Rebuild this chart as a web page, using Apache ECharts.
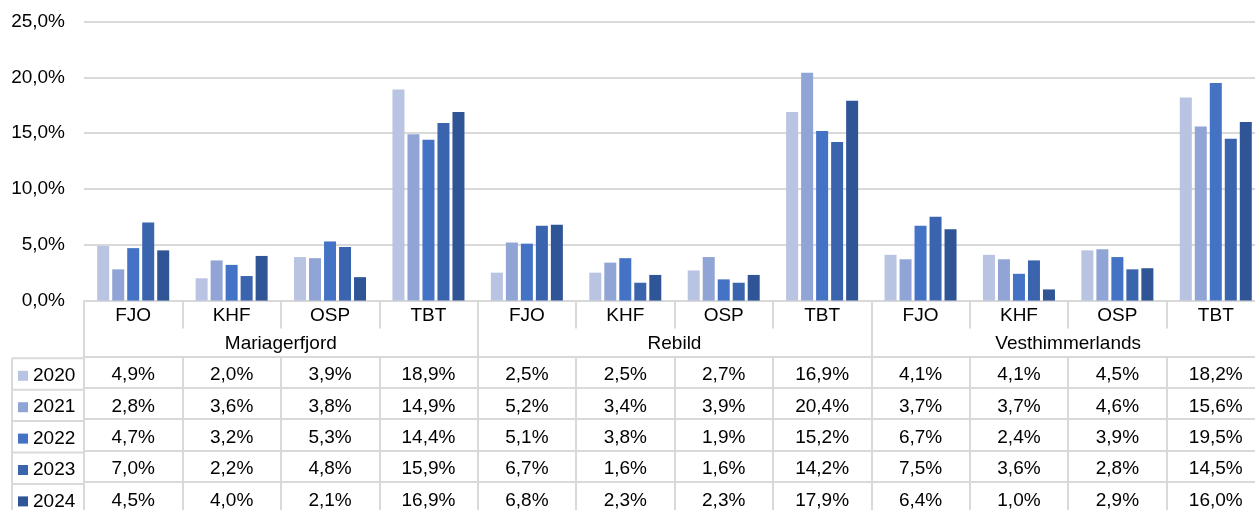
<!DOCTYPE html>
<html><head><meta charset="utf-8">
<script src="https://cdn.jsdelivr.net/npm/echarts@6/dist/echarts.min.js"></script>
<style>html,body{margin:0;padding:0;background:#fff;overflow:hidden;width:1255px;height:510px}#c{width:1266px;height:510px}</style>
</head><body><div id="c"></div>
<script>
// ---- data ----
const categories = ['FJO','KHF','OSP','TBT','FJO','KHF','OSP','TBT','FJO','KHF','OSP','TBT'];
const groups = ['Mariagerfjord','Rebild','Vesthimmerlands'];
const years = ['2020','2021','2022','2023','2024'];
const y2020 = [4.9,2.0,3.9,18.9, 2.5,2.5,2.7,16.9, 4.1,4.1,4.5,18.2];
const y2021 = [2.8,3.6,3.8,14.9, 5.2,3.4,3.9,20.4, 3.7,3.7,4.6,15.6];
const y2022 = [4.7,3.2,5.3,14.4, 5.1,3.8,1.9,15.2, 6.7,2.4,3.9,19.5];
const y2023 = [7.0,2.2,4.8,15.9, 6.7,1.6,1.6,14.2, 7.5,3.6,2.8,14.5];
const y2024 = [4.5,4.0,2.1,16.9, 6.8,2.3,2.3,17.9, 6.4,1.0,2.9,16.0];
const yTicks = {min:0, max:25, interval:5};
const seriesData = [y2020,y2021,y2022,y2023,y2024];
const colors = ['#B9C3E2','#90A4D5','#4472C4','#3A64AE','#2F5597'];

// ---- layout ----
const FONT = 'Liberation Sans, Arial, sans-serif';
const FS = 19;
const gridLeft = 84, gridRight = 1, gridTop = 21.5, gridBottom = 207.5;
const H = 510;
const axisY = H - gridBottom;
const row0 = 55.8, rowH = 31.4;
const lineC = '#D9D9D9';
const fmt = v => v.toFixed(1).replace('.', ',') + '%';

const xAxes = [];
xAxes.push({
  type:'category', data:categories, position:'bottom', gridIndex:0,
  axisLine:{show:true, lineStyle:{color:lineC, width:2}},
  axisTick:{show:true, interval:0, length:28, lineStyle:{color:lineC, width:2}},
  axisLabel:{interval:0, margin:6, color:'#000', fontSize:FS, fontFamily:FONT}
});
xAxes.push({
  type:'category', data:groups, position:'bottom', gridIndex:0,
  axisLine:{show:false},
  axisTick:{show:true, interval:0, length:row0, lineStyle:{color:lineC, width:2}},
  axisLabel:{interval:0, margin:34, color:'#000', fontSize:FS, fontFamily:FONT}
});
seriesData.forEach((arr, k) => {
  xAxes.push({
    type:'category', data:categories, position:'bottom', gridIndex:0,
    offset: row0 + k*rowH,
    axisLine:{show:true, lineStyle:{color:lineC, width:2}},
    axisTick:{show:true, interval:0, length:rowH, lineStyle:{color:lineC, width:2}},
    axisLabel:{interval:0, margin:9, color:'#000', fontSize:FS, fontFamily:FONT,
      formatter:(v, i) => fmt(arr[i])}
  });
});

const graphics = [];
for (let k = 0; k < 6; k++) {
  const y = axisY + row0 + k*rowH;
  graphics.push({type:'line', shape:{x1:12, y1:y, x2:gridLeft, y2:y}, style:{stroke:lineC, lineWidth:2}, silent:true});
}
graphics.push({type:'line', shape:{x1:12, y1:axisY+row0, x2:12, y2:H+10}, style:{stroke:lineC, lineWidth:2}, silent:true});

const option = {
  animation:false,
  color:colors,
  textStyle:{fontFamily:FONT},
  grid:{left:gridLeft, right:gridRight, top:gridTop, bottom:gridBottom, containLabel:false},
  legend:{
    orient:'vertical', left:18, top:axisY + row0 + 8, height:400, itemWidth:10, itemHeight:10,
    itemGap:rowH - 19, icon:'rect', data:years, padding:0,
    textStyle:{fontSize:FS, lineHeight:19, color:'#000', fontFamily:FONT, padding:[0,0,0,0]}
  },
  xAxis:xAxes,
  yAxis:{
    type:'value', min:yTicks.min, max:yTicks.max, interval:yTicks.interval,
    axisLine:{show:false}, axisTick:{show:false},
    splitLine:{lineStyle:{color:lineC, width:2}},
    axisLabel:{margin:19, color:'#000', fontSize:FS, fontFamily:FONT, formatter:fmt, padding:[4,0,0,0]}
  },
  series: seriesData.map((arr, k) => ({
    type:'bar', name:years[k], data:arr, xAxisIndex:0, yAxisIndex:0,
    barWidth:12, barGap:'25%'
  })),
  graphic:graphics
};
const chart = echarts.init(document.getElementById('c'), null, {renderer:'canvas'});
chart.setOption(option);
</script></body></html>
